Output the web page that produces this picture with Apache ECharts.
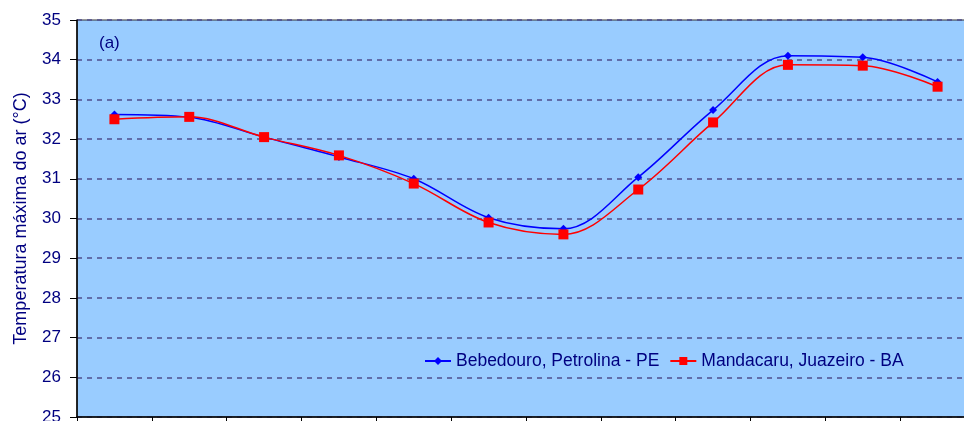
<!DOCTYPE html>
<html>
<head>
<meta charset="utf-8">
<script src="https://cdn.jsdelivr.net/npm/echarts@6/dist/echarts.min.js"></script>
<style>
  html, body { margin: 0; padding: 0; background: #fff; }
  #main { width: 964px; height: 421px; }
</style>
</head>
<body>
<div id="main"></div>
<script>
  // meses (rótulos cortados na imagem original)
  var months = ['Jan', 'Fev', 'Mar', 'Abr', 'Mai', 'Jun', 'Jul', 'Ago', 'Set', 'Out', 'Nov', 'Dez'];
  var bebedouro = [32.62, 32.55, 32.05, 31.55, 31.0, 30.02, 29.74, 31.04, 32.73, 34.1, 34.06, 33.44];
  var mandacaru = [32.5, 32.56, 32.05, 31.59, 30.88, 29.9, 29.6, 30.73, 32.42, 33.87, 33.85, 33.32];
  var yTicks = { min: 25, max: 35, step: 1 };

  var navy = '#000080';
  var fam = 'Liberation Sans, Arial, sans-serif';
  var myChart = echarts.init(document.getElementById('main'));

  var option = {
    animation: false,
    textStyle: { fontFamily: fam },
    grid: {
      left: 77,
      top: 20,
      width: 898,
      height: 397,
      outerBoundsMode: 'none',
      containLabel: false,
      show: true,
      backgroundColor: '#99ccff',
      borderColor: '#333333',
      borderWidth: 1
    },
    legend: {
      left: 419,
      top: 347,
      itemWidth: 26,
      itemHeight: 10,
      itemGap: 10,
      textStyle: { color: navy, fontSize: 17.5 },
      data: ['Bebedouro, Petrolina - PE', 'Mandacaru, Juazeiro - BA']
    },
    graphic: [{
      type: 'text',
      left: 99,
      top: 35,
      style: { text: '(a)', fill: navy, fontSize: 17, fontFamily: fam }
    }],
    xAxis: {
      type: 'category',
      data: months,
      boundaryGap: true,
      axisLine: { lineStyle: { color: '#000', width: 1.5 } },
      axisTick: { show: true, length: 5, lineStyle: { color: '#000' } },
      axisLabel: { show: false },
      splitLine: { show: false }
    },
    yAxis: {
      type: 'value',
      min: yTicks.min,
      max: yTicks.max,
      interval: yTicks.step,
      name: 'Temperatura máxima do ar (°C)',
      nameLocation: 'middle',
      nameRotate: 90,
      nameGap: 47,
      nameTextStyle: { color: navy, fontSize: 18 },
      axisLine: { show: true, lineStyle: { color: '#000', width: 1.5 } },
      axisTick: { show: true, length: 7, lineStyle: { color: '#000' } },
      axisLabel: { color: navy, fontSize: 17, margin: 16 },
      splitLine: { show: true, lineStyle: { color: '#4d4d8f', width: 1.5, type: [5, 5] } }
    },
    series: [
      {
        name: 'Bebedouro, Petrolina - PE',
        type: 'line',
        smooth: 0.35,
        data: bebedouro,
        symbol: 'diamond',
        symbolSize: 8,
        lineStyle: { color: '#0000ff', width: 1.5 },
        itemStyle: { color: '#0000ff' },
        z: 3
      },
      {
        name: 'Mandacaru, Juazeiro - BA',
        type: 'line',
        smooth: 0.35,
        data: mandacaru,
        symbol: 'rect',
        symbolSize: 10,
        lineStyle: { color: '#ff0000', width: 1.5 },
        itemStyle: { color: '#ff0000' },
        z: 4
      }
    ]
  };

  myChart.setOption(option);
</script>
</body>
</html>
